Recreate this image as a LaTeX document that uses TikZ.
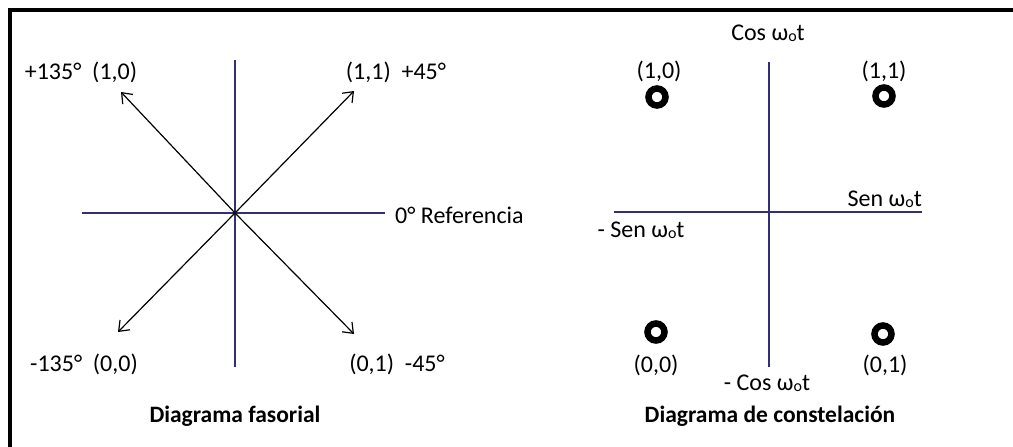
\documentclass[tikz,border=0pt]{standalone}
\usepackage{fontspec}
\setmainfont{Carlito}
\usetikzlibrary{arrows.meta}
\definecolor{axiscol}{RGB}{52,46,122}
\newcommand{\wot}{ω\raisebox{-1.2pt}{\fontsize{16}{16}\selectfont o}t}
\begin{document}
\begin{tikzpicture}[x=1pt,y=-1pt,
  lbl/.style={inner sep=0pt, font=\fontsize{24}{28}\selectfont},
  ttl/.style={inner sep=0pt, font=\fontsize{23.5}{28}\selectfont\bfseries},
  axis/.style={draw=axiscol, line width=1.3pt},
  arr/.style={draw=black, line width=1.2pt, -{Straight Barb[length=9pt,width=14pt,line width=1.2pt]}},
  cpt/.style={circle, draw=black, line width=6.5pt, minimum size=17pt, inner sep=0pt, fill=white}]
\useasboundingbox (0,0) rectangle (1013,447);
\fill[white] (0,0) rectangle (1013,447);
% frame
\draw[line width=4.5pt, line cap=rect] (10,450) -- (10,10) -- (1016,10);

% ---------- phasor diagram ----------
\coordinate (c1) at (235,213);
\coordinate (v1t) at (235,60);
\coordinate (v1b) at (235,367);
\coordinate (h1l) at (82,213);
\coordinate (h1r) at (385,213);
\draw[axis] (v1t) -- (v1b);
\draw[axis] (h1l) -- (h1r);
\coordinate (a45) at (354,91);
\coordinate (a135) at (121,92);
\coordinate (am135) at (118,332);
\coordinate (am45) at (354,334);
\draw[arr] (c1) -- (a45);
\draw[arr] (c1) -- (a135);
\draw[arr] (c1) -- (am135);
\draw[arr] (c1) -- (am45);
\node[lbl] (l135) at (81,72) {+135°\hspace{0.45em}(1,0)};
\node[lbl] (l45) at (396,72) {(1,1)\hspace{0.45em}+45°};
\node[lbl] (lm135) at (84,364) {-135°\hspace{0.45em}(0,0)};
\node[lbl] (lm45) at (397,364) {(0,1)\hspace{0.45em}-45°};
\node[lbl, anchor=west] (lref) at (395,215) {0° Referencia};
\node[ttl] (t1) at (235,416) {Diagrama fasorial};

% ---------- constellation diagram ----------
\coordinate (c2) at (769,212);
\coordinate (v2t) at (769,62);
\coordinate (v2b) at (769,367);
\coordinate (h2l) at (614,212);
\coordinate (h2r) at (922,212);
\draw[axis] (v2t) -- (v2b);
\draw[axis] (h2l) -- (h2r);
\node[lbl] (cos) at (768,33) {Cos \wot};
\node[lbl, anchor=east] (sen) at (922,199) {Sen \wot};
\node[lbl] (msen) at (641,230) {- Sen \wot};
\node[lbl] (mcos) at (767,383) {- Cos \wot};
\node[cpt] (p10) at (657,97) {};
\node[cpt] (p11) at (884,96) {};
\node[cpt] (p00) at (656,332) {};
\node[cpt] (p01) at (883,334) {};
\node[lbl] (lp10) at (659,71) {(1,0)};
\node[lbl] (lp11) at (884,71) {(1,1)};
\node[lbl] (lp00) at (656,365) {(0,0)};
\node[lbl] (lp01) at (885,365) {(0,1)};
\node[ttl] (t2) at (770,416) {Diagrama de constelación};
\end{tikzpicture}
\end{document}
